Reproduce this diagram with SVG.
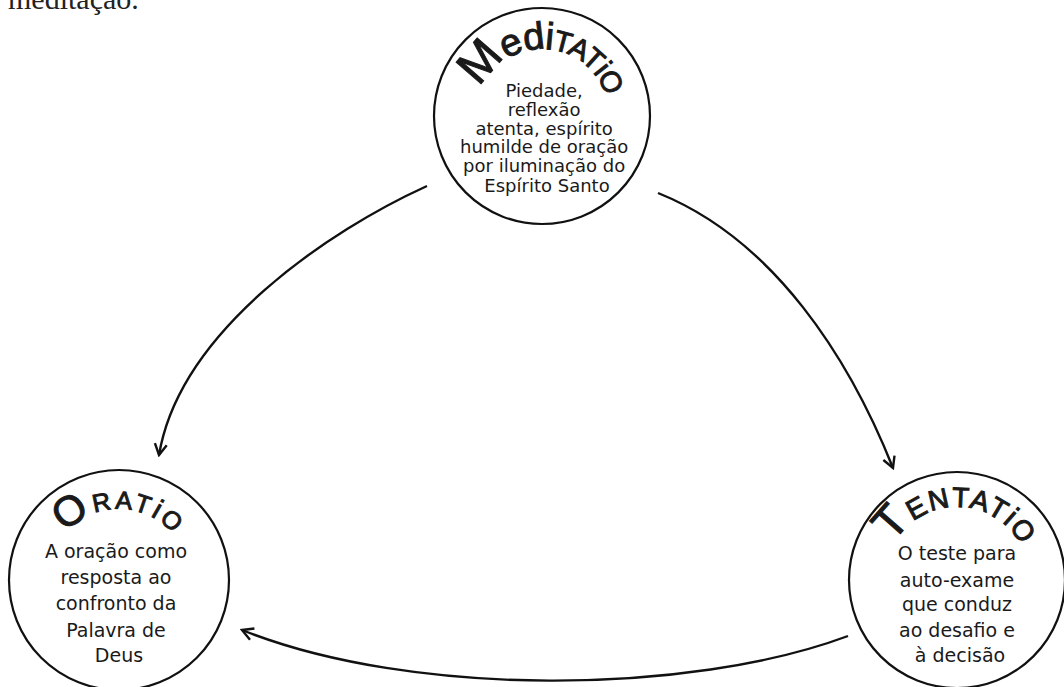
<svg xmlns="http://www.w3.org/2000/svg" width="1064" height="687" viewBox="0 0 1064 687">
<defs>
<style>
.circ{fill:#fff;stroke:#111;stroke-width:2.2}
.body{font-family:"DejaVu Sans",sans-serif;fill:#1a1a1a;text-anchor:middle}
.title{font-family:"Liberation Sans",Arial,sans-serif;fill:#1a1a1a;stroke:#1a1a1a;stroke-width:1;text-anchor:middle}
.sc{font-variant:small-caps}
.conn{fill:none;stroke:#111;stroke-width:2.4}
</style>
<marker id="arr" viewBox="-14 -8 16 16" refX="0" refY="0" markerWidth="16" markerHeight="16" markerUnits="userSpaceOnUse" orient="auto">
<path d="M-11,-6 L0,0 L-11,6" fill="none" stroke="#111" stroke-width="2.4" stroke-linejoin="miter"/>
</marker>
<path id="arcMed" d="M475,116 A67,67 0 0 1 609,116"/>
<path id="arcOra" d="M48,580 A71,71 0 0 1 190,580"/>
<path id="arcTen" d="M884,580 A73,73 0 0 1 1030,580"/>
</defs>
<rect width="1064" height="687" fill="#fff"/>
<text x="8" y="9" font-family="Liberation Serif,serif" font-size="30" fill="#222">meditação.</text>

<g id="connectors">
<path class="conn" d="M427,186 C330,230 180,330 159,455" marker-end="url(#arr)"/>
<path class="conn" d="M658,193 C775,240 850,360 893,468" marker-end="url(#arr)"/>
<path class="conn" d="M848,636 C690,695 412,698 242,630" marker-end="url(#arr)"/>
</g>

<g id="meditatio">
<circle class="circ" cx="542" cy="116" r="108"/>
<text class="title" font-size="38" letter-spacing="-1"><textPath href="#arcMed" startOffset="109"><tspan font-size="48">M</tspan>edi<tspan class="sc" font-size="42">tat</tspan><tspan font-size="30">i</tspan><tspan class="sc" font-size="42">o</tspan></textPath></text>
<text class="body" font-size="18">
<tspan x="547" y="97">Piedade,</tspan>
<tspan x="547" y="116">reflexão</tspan>
<tspan x="547" y="135">atenta, espírito</tspan>
<tspan x="547" y="153">humilde de oração</tspan>
<tspan x="547" y="172">por iluminação do</tspan>
<tspan x="547" y="192">Espírito Santo</tspan>
</text>
</g>

<g id="oratio">
<circle class="circ" cx="119" cy="580" r="110"/>
<text class="title" font-size="36" letter-spacing="3"><textPath href="#arcOra" startOffset="113"><tspan font-size="42">O</tspan><tspan class="sc">rat</tspan><tspan font-size="28">i</tspan><tspan class="sc">o</tspan></textPath></text>
<text class="body" font-size="19">
<tspan x="119" y="558">A oração como</tspan>
<tspan x="119" y="584">resposta ao</tspan>
<tspan x="119" y="610">confronto da</tspan>
<tspan x="119" y="637">Palavra de</tspan>
<tspan x="119" y="662">Deus</tspan>
</text>
</g>

<g id="tentatio">
<circle class="circ" cx="957" cy="580" r="108"/>
<text class="title" font-size="40" letter-spacing="1.5"><textPath href="#arcTen" startOffset="116"><tspan font-size="46">T</tspan><tspan class="sc">entat</tspan><tspan font-size="30">i</tspan><tspan class="sc">o</tspan></textPath></text>
<text class="body" font-size="19">
<tspan x="960" y="560">O teste para</tspan>
<tspan x="960" y="587">auto-exame</tspan>
<tspan x="960" y="611">que conduz</tspan>
<tspan x="960" y="637">ao desafio e</tspan>
<tspan x="960" y="662">à decisão</tspan>
</text>
</g>
</svg>
